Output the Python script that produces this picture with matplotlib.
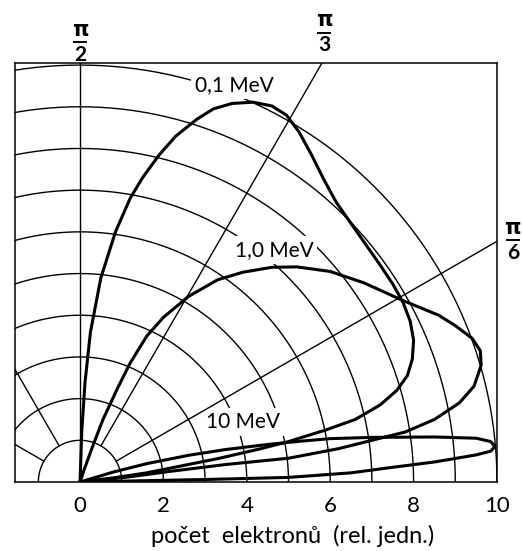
import numpy as np
import matplotlib.pyplot as plt

plt.rcParams.update({
    "font.family": ["Lato", "DejaVu Sans"],
})

# Grid: circles of equal count, radial directions
radii = [1, 2, 3, 4, 5, 6, 7, 8, 9, 10]
main_angles = [np.pi / 2, np.pi / 3, np.pi / 6]
back_angles = [2 * np.pi / 3, 5 * np.pi / 6]

# angle labels: denominator and where the fraction sits (data units)
angle_denoms = ["2", "3", "6"]
angle_label_x = [0.0, 5.85, 10.38]
angle_label_y = [10.55, 10.77, 5.80]

x_ticks = [0, 2, 4, 6, 8, 10]

# Curves (x, y in relative units)
mev01_x = [0, 0.8, 1.6, 2.4, 3.3, 4.3, 5.0, 5.9, 6.6, 7.2, 7.6, 7.85, 7.97,
           8.0, 7.92, 7.75, 7.5, 7.2, 6.85, 6.5, 6.15, 5.85, 5.55, 5.25,
           4.95, 4.6, 4.15, 3.65, 3.2, 2.8, 2.3, 1.9, 1.5, 1.2, 0.85, 0.5,
           0.25, 0.12, 0.04, 0]
mev01_y = [0, 0.1, 0.22, 0.38, 0.56, 0.79, 0.97, 1.25, 1.5, 1.85, 2.2,
           2.55, 2.95, 3.4, 3.85, 4.3, 4.75, 5.2, 5.7, 6.2, 6.7, 7.25, 7.85,
           8.4, 8.8, 9.02, 9.11, 9.08, 8.95, 8.7, 8.3, 7.85, 7.3, 6.8, 6.0,
           4.9, 3.6, 2.4, 1.2, 0]

mev1_x = [0, 1.0, 2.2, 3.5, 5.0, 6.2, 7.0, 7.8, 8.5, 9.1, 9.45, 9.62, 9.6,
          9.4, 9.0, 8.6, 7.75, 6.8, 6.0, 5.2, 4.6, 3.9, 3.3, 2.6, 2.0,
          1.6, 1.2, 0.9, 0.55, 0.3, 0.1, 0]
mev1_y = [0, 0.1, 0.26, 0.42, 0.57, 0.8, 1.0, 1.2, 1.5, 1.9, 2.3, 2.8,
          3.15, 3.45, 3.75, 4.0, 4.35, 4.78, 5.05, 5.16, 5.15, 5.03, 4.85,
          4.45, 3.95, 3.5, 2.85, 2.25, 1.5, 0.85, 0.3, 0]

mev10_x = [0, 1.5, 3.0, 5.0, 6.5, 7.4, 8.5, 9.5, 9.85, 9.95, 9.85, 9.5,
           8.5, 7.0, 6.0, 5.3, 4.5, 3.5, 2.6, 1.6, 0.8, 0]
mev10_y = [0, 0.03, 0.06, 0.11, 0.22, 0.34, 0.48, 0.65, 0.74, 0.85, 0.97,
           1.05, 1.08, 1.07, 1.04, 0.98, 0.9, 0.78, 0.64, 0.44, 0.24, 0]

curve_labels = ["0,1 MeV", "1,0 MeV", "10 MeV"]
label_pos = [(3.7, 9.52), (4.65, 5.57), (3.9, 1.44)]

fig = plt.figure(figsize=(5.22, 5.51), dpi=100)
ax = fig.add_axes([15 / 522, 69 / 551, 482 / 522, 419 / 551])
ax.set_xlim(-1.56, 10)
ax.set_ylim(0, 10.05)

lw_thin = 1.0
lw_thick = 2.2

# circles
t = np.linspace(0, 2 * np.pi, 721)
for r in radii:
    ax.plot(r * np.cos(t), r * np.sin(t), color="black", lw=lw_thin, zorder=1)

# radial lines
big = 20
ax.plot([0, 0], [0, big], color="black", lw=lw_thin, zorder=3)
for a in main_angles[1:] + back_angles:
    ax.plot([np.cos(a), big * np.cos(a)], [np.sin(a), big * np.sin(a)],
            color="black", lw=lw_thin, zorder=3)

# curves
for cx, cy in [(mev01_x, mev01_y), (mev1_x, mev1_y), (mev10_x, mev10_y)]:
    ax.plot(cx, cy, color="black", lw=lw_thick, solid_joinstyle="round",
            zorder=4)

for txt, (lx, ly) in zip(curve_labels, label_pos):
    ax.text(lx, ly, txt, fontsize=15, ha="center", va="center", zorder=2,
            bbox=dict(facecolor="white", edgecolor="none", pad=3))

# angle labels as stacked fractions  pi / n
for d, lx, ly in zip(angle_denoms, angle_label_x, angle_label_y):
    ax.text(lx, ly + 0.06, "π", fontsize=15, fontweight="bold",
            family="DejaVu Sans", ha="center", va="bottom", clip_on=False)
    ax.plot([lx - 0.17, lx + 0.17], [ly, ly], color="black", lw=1.4,
            clip_on=False, solid_capstyle="butt")
    ax.text(lx, ly - 0.06, d, fontsize=15, fontweight="bold",
            ha="center", va="top", clip_on=False)

ax.set_xticks(x_ticks)
ax.set_xticklabels([str(v) for v in x_ticks], fontsize=16)
ax.tick_params(axis="x", length=0, pad=10)
ax.set_yticks([])
ax.set_xlabel("počet  elektronů  (rel. jedn.)", fontsize=17)
ax.xaxis.set_label_coords(0.577, -0.103)
for s in ax.spines.values():
    s.set_linewidth(1.1)

fig.savefig("out.png", dpi=100)
